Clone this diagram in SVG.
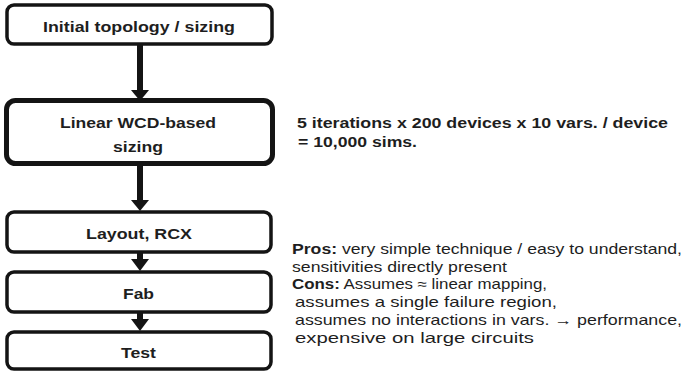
<svg xmlns="http://www.w3.org/2000/svg" width="686" height="377" viewBox="0 0 686 377">
<style>
.box{fill:#fff;stroke:#141414;stroke-width:3.5}
.thick{stroke-width:5}
.lbl{font-family:"Liberation Sans",Arial,sans-serif;font-weight:bold;font-size:15.5px;fill:#1e1e1e;text-anchor:middle}
.note{font-family:"Liberation Sans",Arial,sans-serif;font-size:14.5px;fill:#1e1e1e}
.b{font-weight:bold}
.conn{stroke:#141414;stroke-width:6;fill:none}
.head{fill:#141414}
</style>
<g id="connectors">
<line class="conn" x1="140" y1="44" x2="140" y2="91"/>
<polygon class="head" points="131,90 149,90 140,101"/>
<line class="conn" x1="140" y1="165" x2="140" y2="201"/>
<polygon class="head" points="131,200 149,200 140,211"/>
<line class="conn" x1="140" y1="252" x2="140" y2="260"/>
<polygon class="head" points="131,259 149,259 140,271"/>
<line class="conn" x1="140" y1="312" x2="140" y2="320"/>
<polygon class="head" points="131,319 149,319 140,331"/>
</g>
<g id="n1">
<rect class="box" x="7" y="5" width="265" height="39" rx="7"/>
<text class="lbl" x="139" y="32" textLength="192" lengthAdjust="spacingAndGlyphs">Initial topology / sizing</text>
</g>
<g id="n2">
<rect class="box thick" x="6.5" y="100.5" width="266" height="63" rx="9"/>
<text class="lbl" x="138" y="128" textLength="156" lengthAdjust="spacingAndGlyphs">Linear WCD-based</text>
<text class="lbl" x="138" y="152" textLength="50" lengthAdjust="spacingAndGlyphs">sizing</text>
</g>
<g id="n3">
<rect class="box" x="7" y="212" width="264" height="40" rx="7"/>
<text class="lbl" x="139" y="239" textLength="106" lengthAdjust="spacingAndGlyphs">Layout, RCX</text>
</g>
<g id="n4">
<rect class="box" x="7" y="272" width="264" height="40" rx="7"/>
<text class="lbl" x="138.5" y="299" textLength="31" lengthAdjust="spacingAndGlyphs">Fab</text>
</g>
<g id="n5">
<rect class="box" x="7" y="332" width="264" height="37" rx="7"/>
<text class="lbl" x="138.5" y="358" textLength="35" lengthAdjust="spacingAndGlyphs">Test</text>
</g>
<g id="notes">
<text class="note b" x="297" y="128" textLength="371" lengthAdjust="spacingAndGlyphs">5 iterations x 200 devices x 10 vars. / device</text>
<text class="note b" x="298" y="147" textLength="119" lengthAdjust="spacingAndGlyphs">=  10,000 sims.</text>
<text class="note" x="292" y="254" textLength="390" lengthAdjust="spacingAndGlyphs"><tspan class="b">Pros:</tspan> very simple technique / easy to understand,</text>
<text class="note" x="292" y="272" textLength="215" lengthAdjust="spacingAndGlyphs">sensitivities directly present</text>
<text class="note" x="292" y="289" textLength="255" lengthAdjust="spacingAndGlyphs"><tspan class="b">Cons:</tspan> Assumes ≈ linear mapping,</text>
<text class="note" x="295" y="307" textLength="262" lengthAdjust="spacingAndGlyphs">assumes a single failure region,</text>
<text class="note" x="295" y="325" textLength="387" lengthAdjust="spacingAndGlyphs">assumes no interactions in vars. → performance,</text>
<text class="note" x="295" y="343" textLength="239" lengthAdjust="spacingAndGlyphs">expensive on large circuits</text>
</g>
</svg>
